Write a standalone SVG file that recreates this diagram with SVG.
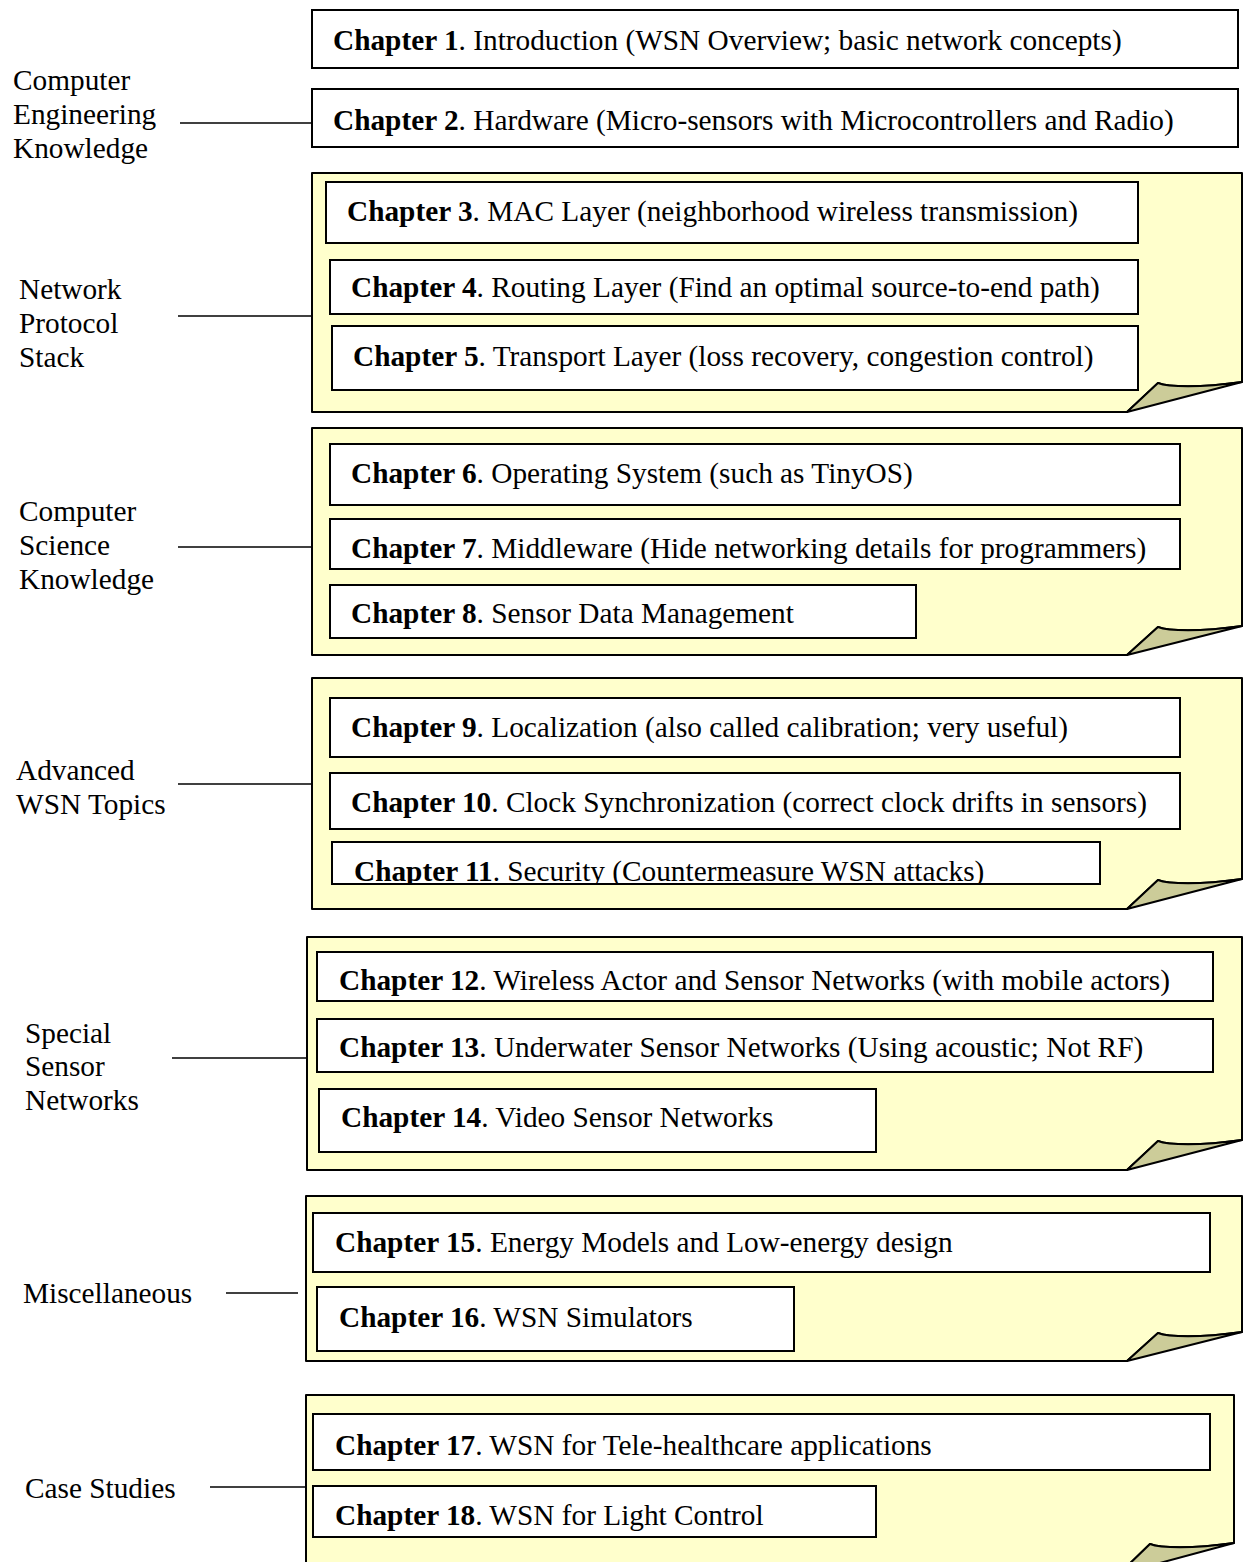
<svg xmlns="http://www.w3.org/2000/svg" width="1243" height="1562" viewBox="0 0 1243 1562">
  <style>
    text { font-family: "Liberation Serif", "Times New Roman", serif; font-size: 29.3px; fill: #000; }
    .b { font-weight: bold; }
    .chap { fill: #fff; stroke: #000; stroke-width: 2; }
    .folder { fill: #ffffcc; stroke: #000; stroke-width: 2; stroke-linejoin: round; }
    .fold { fill: #cccc99; stroke: #000; stroke-width: 2; stroke-linejoin: round; }
    .conn { stroke: #000; stroke-width: 1.5; fill: none; }
  </style>
  <defs>
    <clipPath id="clip7"><rect x="331" y="520" width="848" height="47"/></clipPath>
    <clipPath id="clip11"><rect x="333" y="843" width="766" height="40"/></clipPath>
    <clipPath id="clip12"><rect x="318" y="953" width="894" height="47"/></clipPath>
  </defs>

  <rect width="1243" height="1562" fill="#fff"/>

  <!-- connectors from topic labels to chapter groups -->
  <g id="connectors">
    <line class="conn" x1="180" y1="123" x2="312" y2="123"/>
    <line class="conn" x1="178" y1="316" x2="312" y2="316"/>
    <line class="conn" x1="178" y1="547" x2="312" y2="547"/>
    <line class="conn" x1="178" y1="784" x2="312" y2="784"/>
    <line class="conn" x1="172" y1="1058" x2="307" y2="1058"/>
    <line class="conn" x1="226" y1="1293" x2="298" y2="1293"/>
    <line class="conn" x1="210" y1="1487" x2="306" y2="1487"/>
  </g>

  <!-- topic labels -->
  <g id="label-ce">
    <text x="13" y="90">Computer</text>
    <text x="13" y="124">Engineering</text>
    <text x="13" y="158">Knowledge</text>
  </g>
  <g id="label-nps">
    <text x="19" y="299">Network</text>
    <text x="19" y="333">Protocol</text>
    <text x="19" y="367">Stack</text>
  </g>
  <g id="label-cs">
    <text x="19" y="521">Computer</text>
    <text x="19" y="555">Science</text>
    <text x="19" y="589">Knowledge</text>
  </g>
  <g id="label-adv">
    <text x="16" y="780">Advanced</text>
    <text x="16" y="814">WSN Topics</text>
  </g>
  <g id="label-special">
    <text x="25" y="1043">Special</text>
    <text x="25" y="1076">Sensor</text>
    <text x="25" y="1110">Networks</text>
  </g>
  <g id="label-misc">
    <text x="23" y="1303">Miscellaneous</text>
  </g>
  <g id="label-case">
    <text x="25" y="1498">Case Studies</text>
  </g>

  <!-- folded-corner group panels -->
  <g id="panel-nps">
    <path class="folder" d="M312,173 H1242 V382 C1200,388 1168,387 1158,383 L1127,412 H312 Z"/>
    <path class="fold" d="M1158,383 C1168,387 1200,388 1242,382 L1127,412 Z"/>
  </g>
  <g id="panel-cs">
    <path class="folder" d="M312,428 H1242 V626 C1200,632 1168,631 1158,627 L1127,655 H312 Z"/>
    <path class="fold" d="M1158,627 C1168,631 1200,632 1242,626 L1127,655 Z"/>
  </g>
  <g id="panel-adv">
    <path class="folder" d="M312,678 H1242 V879 C1200,885 1168,884 1158,880 L1127,909 H312 Z"/>
    <path class="fold" d="M1158,880 C1168,884 1200,885 1242,879 L1127,909 Z"/>
  </g>
  <g id="panel-special">
    <path class="folder" d="M307,937 H1242 V1140 C1200,1146 1168,1145 1158,1141 L1127,1170 H307 Z"/>
    <path class="fold" d="M1158,1141 C1168,1145 1200,1146 1242,1140 L1127,1170 Z"/>
  </g>
  <g id="panel-misc">
    <path class="folder" d="M306,1196 H1242 V1332 C1200,1338 1168,1337 1158,1333 L1127,1361 H306 Z"/>
    <path class="fold" d="M1158,1333 C1168,1337 1200,1338 1242,1332 L1127,1361 Z"/>
  </g>
  <g id="panel-case">
    <path class="folder" d="M306,1395 H1234 V1543 C1192,1549 1160,1548 1150,1544 L1119,1574 H306 Z"/>
    <path class="fold" d="M1150,1544 C1160,1548 1192,1549 1234,1543 L1119,1574 Z"/>
  </g>

  <!-- chapter boxes -->
  <g id="ch1">
    <rect class="chap" x="312" y="10" width="926" height="58"/>
    <text x="333" y="50"><tspan class="b">Chapter 1</tspan>. Introduction (WSN Overview; basic network concepts)</text>
  </g>
  <g id="ch2">
    <rect class="chap" x="312" y="89" width="926" height="58"/>
    <text x="333" y="130"><tspan class="b">Chapter 2</tspan>. Hardware (Micro-sensors with Microcontrollers and Radio)</text>
  </g>
  <g id="ch3">
    <rect class="chap" x="326" y="182" width="812" height="61"/>
    <text x="347" y="221"><tspan class="b">Chapter 3</tspan>. MAC Layer (neighborhood wireless transmission)</text>
  </g>
  <g id="ch4">
    <rect class="chap" x="330" y="260" width="808" height="54"/>
    <text x="351" y="297"><tspan class="b">Chapter 4</tspan>. Routing Layer (Find an optimal source-to-end path)</text>
  </g>
  <g id="ch5">
    <rect class="chap" x="332" y="326" width="806" height="64"/>
    <text x="353" y="366"><tspan class="b">Chapter 5</tspan>. Transport Layer (loss recovery, congestion control)</text>
  </g>
  <g id="ch6">
    <rect class="chap" x="330" y="444" width="850" height="61"/>
    <text x="351" y="483"><tspan class="b">Chapter 6</tspan>. Operating System (such as TinyOS)</text>
  </g>
  <g id="ch7">
    <rect class="chap" x="330" y="519" width="850" height="50"/>
    <text x="351" y="558" clip-path="url(#clip7)"><tspan class="b">Chapter 7</tspan>. Middleware (Hide networking details for programmers)</text>
  </g>
  <g id="ch8">
    <rect class="chap" x="330" y="585" width="586" height="53"/>
    <text x="351" y="623"><tspan class="b">Chapter 8</tspan>. Sensor Data Management</text>
  </g>
  <g id="ch9">
    <rect class="chap" x="330" y="698" width="850" height="59"/>
    <text x="351" y="737"><tspan class="b">Chapter 9</tspan>. Localization (also called calibration; very useful)</text>
  </g>
  <g id="ch10">
    <rect class="chap" x="330" y="773" width="850" height="56"/>
    <text x="351" y="812"><tspan class="b">Chapter 10</tspan>. Clock Synchronization (correct clock drifts in sensors)</text>
  </g>
  <g id="ch11">
    <rect class="chap" x="332" y="842" width="768" height="42"/>
    <text x="354" y="881" clip-path="url(#clip11)"><tspan class="b">Chapter 11</tspan>. Security (Countermeasure WSN attacks)</text>
  </g>
  <g id="ch12">
    <rect class="chap" x="317" y="952" width="896" height="49"/>
    <text x="339" y="990" clip-path="url(#clip12)"><tspan class="b">Chapter 12</tspan>. Wireless Actor and Sensor Networks (with mobile actors)</text>
  </g>
  <g id="ch13">
    <rect class="chap" x="317" y="1019" width="896" height="53"/>
    <text x="339" y="1057"><tspan class="b">Chapter 13</tspan>. Underwater Sensor Networks (Using acoustic; Not RF)</text>
  </g>
  <g id="ch14">
    <rect class="chap" x="319" y="1089" width="557" height="63"/>
    <text x="341" y="1127"><tspan class="b">Chapter 14</tspan>. Video Sensor Networks</text>
  </g>
  <g id="ch15">
    <rect class="chap" x="313" y="1213" width="897" height="59"/>
    <text x="335" y="1252"><tspan class="b">Chapter 15</tspan>. Energy Models and Low-energy design</text>
  </g>
  <g id="ch16">
    <rect class="chap" x="317" y="1287" width="477" height="64"/>
    <text x="339" y="1327"><tspan class="b">Chapter 16</tspan>. WSN Simulators</text>
  </g>
  <g id="ch17">
    <rect class="chap" x="313" y="1414" width="897" height="56"/>
    <text x="335" y="1455"><tspan class="b">Chapter 17</tspan>. WSN for Tele-healthcare applications</text>
  </g>
  <g id="ch18">
    <rect class="chap" x="313" y="1486" width="563" height="51"/>
    <text x="335" y="1525"><tspan class="b">Chapter 18</tspan>. WSN for Light Control</text>
  </g>
</svg>
